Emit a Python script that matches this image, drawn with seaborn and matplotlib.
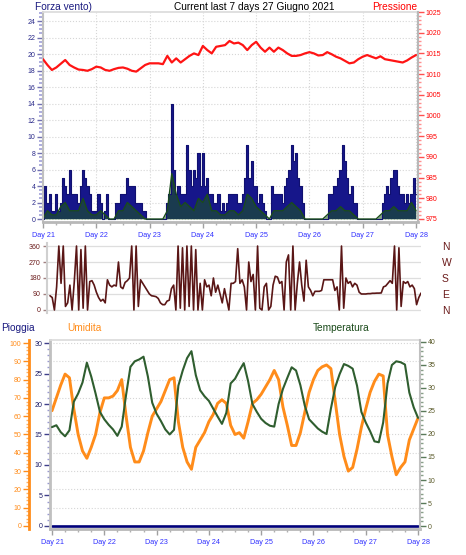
import numpy as np
import pandas as pd
import matplotlib
matplotlib.use("Agg")
import matplotlib.pyplot as plt
import seaborn as sns
from matplotlib.ticker import MultipleLocator

# ---- data, x axis = hours since Day 21 00:00 ----
day_labels = ["Day 21", "Day 22", "Day 23", "Day 24", "Day 25", "Day 26", "Day 27", "Day 28"]

# wind speed (navy), hourly
wind_gust = [0, 4, 2, 3, 1, 1, 3, 1, 2, 5, 4, 3, 6, 3, 3, 3, 2, 4, 6, 5, 4, 3, 1, 1,
             1, 3, 2, 0, 1, 3, 0, 0, 0, 2, 2, 3, 3, 3, 5, 4, 4, 4, 2, 2, 2, 1, 1, 0,
             0, 0, 0, 0, 0, 0, 0, 0, 2, 3, 14, 6, 3, 4, 3, 3, 3, 9, 6, 4, 6, 5, 8, 4,
             8, 4, 5, 3, 3, 2, 2, 3, 1, 2, 1, 2, 3, 3, 3, 3, 2, 2, 3, 5, 9, 5, 7, 4,
             4, 2, 3, 2, 1, 0, 0, 4, 3, 3, 3, 3, 2, 4, 5, 6, 9, 7, 8, 5, 4, 2, 0, 0,
             0, 0, 0, 0, 0, 0, 0, 0, 0, 3, 3, 4, 4, 5, 6, 9, 7, 5, 3, 4, 2, 2, 0, 0,
             0, 0, 0, 0, 0, 0, 0, 0, 0, 2, 3, 4, 3, 5, 6, 6, 4, 3, 3, 2, 3, 2, 3, 5,
             3]

# average wind (green), every 2 hours
wind_avg = [0, 1, 0.5, 0.5, 1.5, 2, 1, 1, 1, 2.5, 1, 0.5,
            0.5, 1, 0.5, 0, 0, 1, 1, 2, 1.5, 1, 0.5, 0,
            0, 0, 0, 0, 1, 5.5, 3, 1.5, 2, 1.5, 1, 2.5,
            2, 3, 1, 1, 0.5, 0.5, 1, 1, 0.5, 1, 3, 2.5,
            1.5, 1, 0.5, 0, 1, 1, 1, 1.5, 2, 1.5, 1, 0,
            0, 0, 0, 0, 0.5, 1, 1, 1.5, 1, 1, 0.5, 0,
            0, 0, 0, 0, 0.5, 1, 1, 1.5, 1, 1, 1, 2,
            1]

# pressure hPa, every 2 hours
pressure = [1013.6, 1012.2, 1011.0, 1011.6, 1012.5, 1013.4, 1012.2, 1011.6, 1011.1, 1011.0, 1010.8, 1011.2,
            1011.8, 1011.6, 1011.0, 1010.8, 1011.2, 1011.5, 1011.6, 1011.3, 1010.8, 1010.6, 1011.4, 1012.2,
            1012.6, 1012.6, 1012.6, 1012.4, 1014.4, 1012.8, 1013.8, 1012.8, 1013.6, 1014.4, 1015.0, 1014.6,
            1016.8, 1015.8, 1015.0, 1016.6, 1016.8, 1017.0, 1018.0, 1017.4, 1017.6, 1017.0, 1015.8, 1017.0,
            1017.8, 1016.4, 1015.4, 1016.4, 1015.4, 1016.4, 1015.8, 1015.0, 1014.4, 1014.4, 1014.6, 1015.0,
            1015.3, 1015.0, 1014.5, 1014.6, 1015.3, 1014.8, 1014.2, 1013.8, 1013.2, 1012.6, 1012.8, 1013.6,
            1014.2, 1014.6, 1014.2, 1013.8, 1014.3, 1013.6, 1013.4, 1013.2, 1013.0, 1012.8, 1013.3, 1014.0,
            1014.6]

# wind direction degrees, hourly
direction = [80, 70, 0, 130, 360, 150, 360, 20, 40, 140, 0, 160, 360, 0, 340, 10, 360, 0, 160, 165, 140, 100, 70, 50,
             60, 40, 170, 140, 130, 140, 135, 270, 130, 120, 155, 165, 180, 360, 0, 360, 20, 170, 150, 130, 110, 90, 80, 78,
             75, 65, 40, 30, 30, 50, 55, 120, 140, 0, 360, 10, 350, 0, 360, 20, 360, 0, 340, 0, 150, 0, 170, 130,
             140, 80, 180, 100, 140, 90, 40, 120, 60, 0, 150, 150, 160, 345, 150, 170, 130, 0, 270, 160, 200, 0, 360, 10,
             0, 130, 150, 0, 20, 140, 190, 185, 150, 160, 0, 270, 310, 0, 360, 0, 150, 270, 140, 50, 280, 130, 110, 80,
             105, 105, 105, 110, 170, 170, 170, 170, 170, 110, 130, 0, 360, 10, 180, 150, 160, 130, 150, 140, 100, 90, 90, 90,
             92, 92, 94, 94, 95, 95, 96, 130, 135, 150, 165, 150, 360, 0, 350, 20, 160, 150, 160, 130, 140, 120, 30, 70,
             95]
dir_ticks = [0, 90, 180, 270, 360]
dir_letters = ["N", "E", "S", "W", "N"]

# temperature and humidity, every 2 hours
temperature = [21.5, 21.9, 20.4, 19.5, 20.8, 27.0, 28.8, 31.2, 35.5, 32.5, 28.8, 24.8,
               23.2, 22.0, 21.0, 19.6, 21.6, 28.5, 34.6, 35.8, 36.2, 36.8, 32.5, 26.8,
               24.4, 22.8, 21.0, 19.9, 20.9, 30.5, 33.8, 36.5, 38.0, 32.8, 29.5, 28.2,
               27.2, 25.5, 23.8, 22.2, 24.6, 31.0, 32.0, 33.8, 35.4, 31.5, 26.5, 24.8,
               23.3, 22.4, 21.8, 21.6, 26.5, 29.8, 32.2, 34.5, 33.8, 30.6, 26.2, 23.2,
               22.2, 21.2, 20.5, 20.0, 25.5, 30.2, 33.0, 35.2, 34.8, 34.2, 30.5, 24.8,
               22.5, 20.6, 18.4, 18.2, 22.5, 31.0, 35.0, 35.8, 35.6, 35.1, 29.0, 25.8,
               23.5]
humidity = [63, 70, 77, 83, 81, 64, 50, 41, 37, 43, 50, 62,
            70, 70, 71, 74, 80, 60, 43, 35, 35, 41, 51, 60,
            64, 68, 74, 80, 81, 57, 43, 35, 31, 43, 47, 51,
            57, 61, 67, 69, 67, 55, 50, 51, 48, 57, 67, 69,
            72, 76, 80, 85, 80, 65, 55, 44, 44, 51, 62, 73,
            80, 85, 87, 88, 86, 68, 50, 38, 30, 32, 42, 54,
            64, 73, 79, 83, 82, 50, 38, 28, 32, 35, 47, 53,
            59]

# rain mm (no rain in the week)
rain_hours = [0, 168]
rain = [0.0, 0.0]

hours_1h = np.arange(len(wind_gust))
hours_2h = np.arange(len(pressure)) * 2
day_ticks = np.arange(len(day_labels)) * 24

W, H = 466, 555
GRID = '#d6d6d6'
DAYCOL = '#3030ff'

sns.set_theme(style="white")
plt.rcParams['font.family'] = ['Liberation Sans', 'DejaVu Sans']

fig = plt.figure(figsize=(W / 100, H / 100), dpi=100)
fig.patch.set_facecolor('white')


def px_axes(l, t, r, b):
    return fig.add_axes([l / W, 1 - b / H, (r - l) / W, (b - t) / H])


def style_days(ax):
    ax.set_xticks(day_ticks, day_labels)
    ax.xaxis.set_minor_locator(MultipleLocator(6))
    ax.tick_params(axis='x', which='major', length=4, width=1, color='#a0a0a0',
                   labelsize=5.2, labelcolor=DAYCOL, pad=3, bottom=True)
    ax.tick_params(axis='x', which='minor', length=2.5, width=1, color='#b0b0b0', bottom=True)


# ---------- panel 1: wind + pressure ----------
ax1 = px_axes(43, 12, 418, 222)
ax1.fill_between(hours_1h, wind_gust, 0, step='mid', color='#16168a', lw=0)
sns.lineplot(x=hours_1h, y=wind_gust, ax=ax1, color='#101070', linewidth=0.8, drawstyle='steps-mid')
ax1.fill_between(hours_2h, wind_avg, 0, color='#1f5a1f', lw=0, alpha=0.55)
sns.lineplot(x=hours_2h, y=wind_avg, ax=ax1, color='#1a4d1a', linewidth=1.0)
ax1.yaxis.set_major_locator(MultipleLocator(2))
ax1.yaxis.set_minor_locator(MultipleLocator(0.5))
ax1.tick_params(axis='y', which='major', length=4, width=1, color='#7070b0',
                labelsize=5, labelcolor='#2a2a8a', pad=1.5, left=True)
ax1.tick_params(axis='y', which='minor', length=3, width=1.2, color='#a0a0d8', left=True)
style_days(ax1)
ax1.set_xlim(0, 168.9)
ax1.set_ylim(-0.36, 25.1)
ax1.grid(True, which='major', color=GRID, linestyle=':', linewidth=0.8)
ax1.set_axisbelow(True)
for s in ['top', 'right']:
    ax1.spines[s].set_color('#dcdcdc')
ax1.spines['left'].set_color('#c0c0c0')
ax1.spines['left'].set_linewidth(1.5)
ax1.spines['bottom'].set_color('#b8b8b8')
ax1.spines['bottom'].set_linewidth(2)
ax1.set_xlabel('')
ax1.set_ylabel('')

ax1p = ax1.twinx()
sns.lineplot(x=hours_2h, y=pressure, ax=ax1p, color='#ff1414', linewidth=1.6)
ax1p.set_ylim(974.27, 1025)
ax1p.yaxis.set_major_locator(MultipleLocator(5))
ax1p.yaxis.set_minor_locator(MultipleLocator(1))
ax1p.tick_params(axis='y', which='major', length=4, width=1, color='#ff5050',
                 labelsize=5, labelcolor='#ff0000', pad=1.5, right=True)
ax1p.tick_params(axis='y', which='minor', length=2, width=1, color='#ff9090', right=True)
for s in ax1p.spines.values():
    s.set_visible(False)
ax1p.spines['right'].set_visible(True)
ax1p.spines['right'].set_color('#b8b8b8')
ax1p.spines['right'].set_linewidth(1.5)
ax1p.set_ylabel('')

# ---------- panel 2: wind direction ----------
ax2 = px_axes(47, 243, 421, 313)
sns.lineplot(x=hours_1h, y=direction, ax=ax2, color='#5a1616', linewidth=1.2)
ax2.set_xlim(-1.36, 168)
ax2.set_ylim(-17, 377)
ax2.set_yticks(dir_ticks)
ax2.tick_params(axis='y', which='major', length=3, width=1, color='#a08080',
                labelsize=5, labelcolor='#6a1a1a', pad=1.5, left=True)
ax2.set_xticks([])
ax2.grid(True, axis='y', color='#dedede', linewidth=0.9)
ax2.set_axisbelow(True)
for s in ['top', 'right', 'bottom']:
    ax2.spines[s].set_visible(False)
ax2.spines['left'].set_color('#d0d0d0')
ax2.spines['left'].set_linewidth(1.5)
ax2.set_ylabel('')

ax2d = ax2.twinx()
ax2d.set_ylim(ax2.get_ylim())
ax2d.set_yticks(dir_ticks)
ax2d.set_yticklabels(dir_letters)
ax2d.tick_params(axis='y', length=0, labelsize=7.5, labelcolor='#6a1a1a', pad=15)
for s in ax2d.spines.values():
    s.set_visible(False)

# ---------- panel 3: rain / humidity / temperature ----------
ax3 = px_axes(50, 340, 420, 529)
ax3h = ax3.twinx()
ax3t = ax3.twinx()
ax3h.set_zorder(1)
ax3.set_zorder(2)
ax3t.set_zorder(3)
ax3.patch.set_visible(False)
ax3h.patch.set_facecolor('white')

hum_lim = (-1.64, 101.64)
ax3h.set_ylim(hum_lim)
ax3.set_ylim(hum_lim[0] * 0.3, hum_lim[1] * 0.3)
ax3t.set_ylim(-0.65, 40.43)

ax3h.yaxis.set_major_locator(MultipleLocator(10))
ax3h.yaxis.set_minor_locator(MultipleLocator(2))
ax3h.set_xticks(day_ticks)
ax3h.grid(True, color=GRID, linestyle=':', linewidth=0.8)
ax3h.tick_params(axis='x', bottom=False, top=False, labelbottom=False)
sns.lineplot(x=hours_2h, y=humidity, ax=ax3h, color='#ff8c1a', linewidth=2.1)
ax3h.spines['left'].set_position(('axes', -21 / 370))
ax3h.spines['left'].set_visible(True)
ax3h.spines['left'].set_color('#ff8c1a')
ax3h.spines['left'].set_linewidth(2)
for s in ['top', 'right', 'bottom']:
    ax3h.spines[s].set_visible(False)
ax3h.yaxis.set_ticks_position('left')
ax3h.yaxis.set_label_position('left')
ax3h.tick_params(axis='y', which='major', length=4, width=1, color='#ff8c1a',
                 labelsize=5, labelcolor='#ff8c1a', pad=1.5, left=True, right=False,
                 labelleft=True, labelright=False)
ax3h.tick_params(axis='y', which='minor', length=2, width=1, color='#ffb060', left=True, right=False)
ax3h.set_ylabel('')

sns.lineplot(x=rain_hours, y=rain, ax=ax3, color='#00007a', linewidth=1.9)
ax3.yaxis.set_major_locator(MultipleLocator(5))
ax3.yaxis.set_minor_locator(MultipleLocator(1))
ax3.tick_params(axis='y', which='major', length=4, width=1, color='#40408a',
                labelsize=5, labelcolor='#1a1a66', pad=1.5, left=True)
ax3.tick_params(axis='y', which='minor', length=2.5, width=1, color='#9a9ad0', left=True)
style_days(ax3)
for s in ['top', 'right']:
    ax3.spines[s].set_color('#dcdcdc')
ax3.spines['left'].set_color('#c0c0c0')
ax3.spines['left'].set_linewidth(2)
ax3.spines['bottom'].set_color('#b8b8b8')
ax3.spines['bottom'].set_linewidth(2)
ax3.set_ylabel('')

sns.lineplot(x=hours_2h, y=temperature, ax=ax3t, color='#2f5e2f', linewidth=1.5)
ax3t.yaxis.set_major_locator(MultipleLocator(5))
ax3t.yaxis.set_minor_locator(MultipleLocator(1))
ax3t.tick_params(axis='y', which='major', length=4, width=1, color='#5a7a5a',
                 labelsize=5, labelcolor='#5c5c2c', pad=1.5, right=True)
ax3t.tick_params(axis='y', which='minor', length=2, width=1, color='#8aa08a', right=True)
for s in ['top', 'left', 'bottom']:
    ax3t.spines[s].set_visible(False)
ax3t.spines['right'].set_color('#c0c0c0')
ax3t.spines['right'].set_linewidth(1.5)
ax3t.set_ylabel('')

for a in (ax3, ax3h, ax3t):
    a.set_xlim(-0.92, 168.9)

# ---------- header texts ----------
TS = 7.3
fig.text(35 / W, 1 - 7 / H, "Forza vento)", color='#1a1a80', fontsize=TS, ha='left', va='center')
fig.text(254 / W, 1 - 7 / H, "Current last 7 days 27 Giugno 2021", color='black',
         fontsize=TS, ha='center', va='center')
fig.text(417 / W, 1 - 7 / H, "Pressione", color='#ff0000', fontsize=TS, ha='right', va='center')
fig.text(1 / W, 1 - 328 / H, "Pioggia", color='#1a1a80', fontsize=TS, ha='left', va='center')
fig.text(67 / W, 1 - 328 / H, "Umidita", color='#ff8c1a', fontsize=TS, ha='left', va='center')
fig.text(313 / W, 1 - 328 / H, "Temperatura", color='#1a4a1a', fontsize=TS, ha='left', va='center')

fig.savefig('out.png', dpi=100, facecolor='white')
